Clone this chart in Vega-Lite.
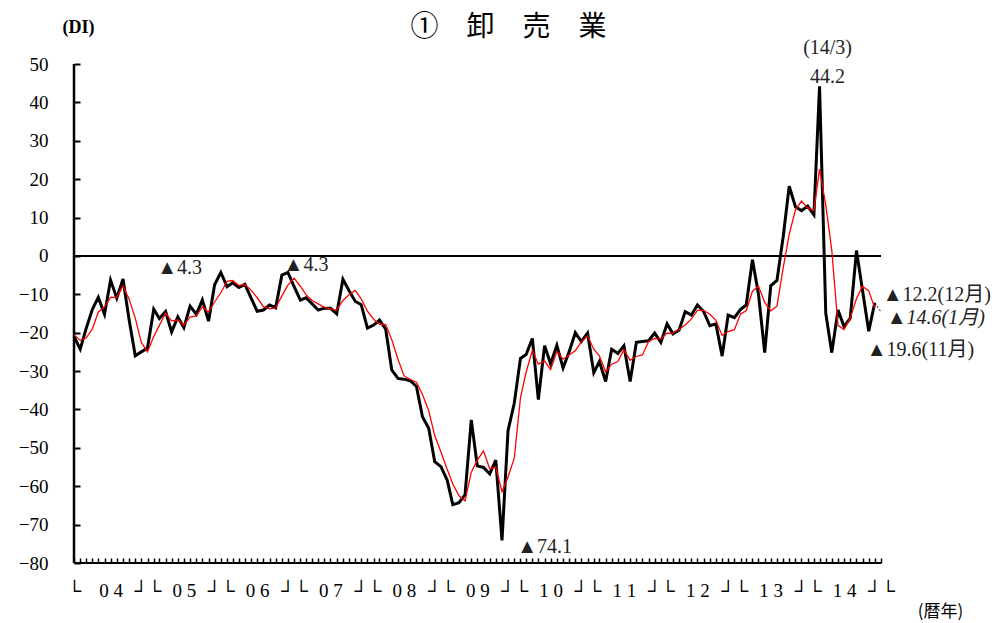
{
  "$schema": "https://vega.github.io/schema/vega-lite/v6.json",
  "width": 807,
  "height": 499,
  "autosize": {"type": "none"},
  "padding": {"left": 74, "top": 64, "right": 121, "bottom": 60},
  "background": "white",
  "config": {
    "view": {"stroke": null},
    "font": "Liberation Serif",
    "axisX": {"labelFont": "Liberation Serif, DejaVu Sans", "labelFontSize": 19, "labelColor": "black", "domain": false, "tickColor": "black", "tickWidth": 1.5, "grid": false, "labelOverlap": false},
    "axisY": {"labelFont": "Liberation Serif", "labelFontSize": 19, "labelColor": "black", "domain": false, "tickColor": "black", "tickWidth": 2, "grid": false, "labelOverlap": false, "tickCount": 14}
  },
  "title": {"text": "①　卸　売　業", "font": "Noto Sans CJK JP", "fontSize": 28, "fontWeight": "normal", "color": "black", "anchor": "middle", "dx": 31, "dy": 38, "offset": 14},
  "datasets": {
    "di": [
      {"date":"2004-01-01","v":-21.0,"ma":-20.5},{"date":"2004-02-01","v":-24.3,"ma":-22.0},{"date":"2004-03-01","v":-19.0,"ma":-21.4},{"date":"2004-04-01","v":-14.0,"ma":-19.1},{"date":"2004-05-01","v":-10.8,"ma":-14.6},{"date":"2004-06-01","v":-15.2,"ma":-13.3},{"date":"2004-07-01","v":-6.3,"ma":-10.8},{"date":"2004-08-01","v":-11.0,"ma":-10.8},{"date":"2004-09-01","v":-6.0,"ma":-7.8},{"date":"2004-10-01","v":-16.5,"ma":-11.2},{"date":"2004-11-01","v":-26.0,"ma":-16.2},{"date":"2004-12-01","v":-25.0,"ma":-22.5},
      {"date":"2005-01-01","v":-24.0,"ma":-25.0},{"date":"2005-02-01","v":-13.9,"ma":-21.0},{"date":"2005-03-01","v":-16.3,"ma":-18.1},{"date":"2005-04-01","v":-14.5,"ma":-14.9},{"date":"2005-05-01","v":-19.8,"ma":-16.9},{"date":"2005-06-01","v":-15.9,"ma":-16.7},{"date":"2005-07-01","v":-18.7,"ma":-18.1},{"date":"2005-08-01","v":-13.1,"ma":-15.9},{"date":"2005-09-01","v":-15.2,"ma":-15.7},{"date":"2005-10-01","v":-11.5,"ma":-13.3},{"date":"2005-11-01","v":-17.0,"ma":-14.6},{"date":"2005-12-01","v":-7.5,"ma":-12.0},
      {"date":"2006-01-01","v":-4.3,"ma":-9.6},{"date":"2006-02-01","v":-8.0,"ma":-6.6},{"date":"2006-03-01","v":-7.0,"ma":-6.4},{"date":"2006-04-01","v":-8.2,"ma":-7.7},{"date":"2006-05-01","v":-7.4,"ma":-7.5},{"date":"2006-06-01","v":-11.0,"ma":-8.9},{"date":"2006-07-01","v":-14.4,"ma":-10.9},{"date":"2006-08-01","v":-14.1,"ma":-13.2},{"date":"2006-09-01","v":-12.8,"ma":-13.8},{"date":"2006-10-01","v":-13.5,"ma":-13.5},{"date":"2006-11-01","v":-5.0,"ma":-10.4},{"date":"2006-12-01","v":-4.3,"ma":-7.6},
      {"date":"2007-01-01","v":-8.0,"ma":-5.8},{"date":"2007-02-01","v":-11.5,"ma":-7.9},{"date":"2007-03-01","v":-10.9,"ma":-10.1},{"date":"2007-04-01","v":-12.5,"ma":-11.6},{"date":"2007-05-01","v":-14.1,"ma":-12.5},{"date":"2007-06-01","v":-13.6,"ma":-13.4},{"date":"2007-07-01","v":-13.6,"ma":-13.8},{"date":"2007-08-01","v":-15.1,"ma":-14.1},{"date":"2007-09-01","v":-6.1,"ma":-11.6},{"date":"2007-10-01","v":-9.0,"ma":-10.1},{"date":"2007-11-01","v":-11.8,"ma":-9.0},{"date":"2007-12-01","v":-12.7,"ma":-11.2},
      {"date":"2008-01-01","v":-18.8,"ma":-14.4},{"date":"2008-02-01","v":-18.0,"ma":-16.5},{"date":"2008-03-01","v":-16.7,"ma":-17.8},{"date":"2008-04-01","v":-19.1,"ma":-17.9},{"date":"2008-05-01","v":-29.7,"ma":-21.8},{"date":"2008-06-01","v":-31.9,"ma":-26.9},{"date":"2008-07-01","v":-32.1,"ma":-31.2},{"date":"2008-08-01","v":-32.5,"ma":-32.2},{"date":"2008-09-01","v":-34.0,"ma":-32.9},{"date":"2008-10-01","v":-41.9,"ma":-36.1},{"date":"2008-11-01","v":-44.9,"ma":-40.3},{"date":"2008-12-01","v":-53.6,"ma":-46.8},
      {"date":"2009-01-01","v":-54.9,"ma":-51.1},{"date":"2009-02-01","v":-58.4,"ma":-55.6},{"date":"2009-03-01","v":-64.8,"ma":-59.4},{"date":"2009-04-01","v":-64.3,"ma":-62.5},{"date":"2009-05-01","v":-62.2,"ma":-63.8},{"date":"2009-06-01","v":-42.7,"ma":-56.4},{"date":"2009-07-01","v":-54.7,"ma":-53.2},{"date":"2009-08-01","v":-55.1,"ma":-50.8},{"date":"2009-09-01","v":-56.8,"ma":-55.5},{"date":"2009-10-01","v":-53.2,"ma":-55.0},{"date":"2009-11-01","v":-74.1,"ma":-61.4},{"date":"2009-12-01","v":-45.5,"ma":-57.6},
      {"date":"2010-01-01","v":-38.4,"ma":-52.7},{"date":"2010-02-01","v":-26.7,"ma":-36.9},{"date":"2010-03-01","v":-25.7,"ma":-30.3},{"date":"2010-04-01","v":-21.5,"ma":-24.6},{"date":"2010-05-01","v":-37.4,"ma":-28.2},{"date":"2010-06-01","v":-23.4,"ma":-27.4},{"date":"2010-07-01","v":-28.1,"ma":-29.6},{"date":"2010-08-01","v":-23.3,"ma":-24.9},{"date":"2010-09-01","v":-29.2,"ma":-26.9},{"date":"2010-10-01","v":-25.0,"ma":-25.8},{"date":"2010-11-01","v":-20.0,"ma":-24.7},{"date":"2010-12-01","v":-22.3,"ma":-22.4},
      {"date":"2011-01-01","v":-20.1,"ma":-20.8},{"date":"2011-02-01","v":-30.4,"ma":-24.3},{"date":"2011-03-01","v":-27.5,"ma":-26.0},{"date":"2011-04-01","v":-32.7,"ma":-30.2},{"date":"2011-05-01","v":-24.3,"ma":-28.2},{"date":"2011-06-01","v":-25.4,"ma":-27.5},{"date":"2011-07-01","v":-23.4,"ma":-24.4},{"date":"2011-08-01","v":-32.7,"ma":-27.2},{"date":"2011-09-01","v":-22.5,"ma":-26.2},{"date":"2011-10-01","v":-22.3,"ma":-25.8},{"date":"2011-11-01","v":-22.1,"ma":-22.3},{"date":"2011-12-01","v":-20.1,"ma":-21.5},
      {"date":"2012-01-01","v":-22.5,"ma":-21.6},{"date":"2012-02-01","v":-17.7,"ma":-20.1},{"date":"2012-03-01","v":-20.3,"ma":-20.2},{"date":"2012-04-01","v":-19.3,"ma":-19.1},{"date":"2012-05-01","v":-14.5,"ma":-18.0},{"date":"2012-06-01","v":-15.4,"ma":-16.4},{"date":"2012-07-01","v":-12.8,"ma":-14.2},{"date":"2012-08-01","v":-14.5,"ma":-14.2},{"date":"2012-09-01","v":-18.2,"ma":-15.2},{"date":"2012-10-01","v":-17.7,"ma":-16.8},{"date":"2012-11-01","v":-26.1,"ma":-20.7},{"date":"2012-12-01","v":-15.4,"ma":-19.7},
      {"date":"2013-01-01","v":-16.1,"ma":-19.2},{"date":"2013-02-01","v":-13.9,"ma":-15.1},{"date":"2013-03-01","v":-12.8,"ma":-14.3},{"date":"2013-04-01","v":-1.0,"ma":-9.2},{"date":"2013-05-01","v":-10.0,"ma":-7.9},{"date":"2013-06-01","v":-25.2,"ma":-12.1},{"date":"2013-07-01","v":-7.8,"ma":-14.3},{"date":"2013-08-01","v":-6.4,"ma":-13.1},{"date":"2013-09-01","v":5.0,"ma":-3.1},{"date":"2013-10-01","v":18.2,"ma":5.6},{"date":"2013-11-01","v":12.8,"ma":12.0},{"date":"2013-12-01","v":11.8,"ma":14.3},
      {"date":"2014-01-01","v":13.0,"ma":12.5},{"date":"2014-02-01","v":10.7,"ma":11.8},{"date":"2014-03-01","v":44.2,"ma":22.6},{"date":"2014-04-01","v":-14.9,"ma":13.3},{"date":"2014-05-01","v":-25.2,"ma":1.4},{"date":"2014-06-01","v":-14.1,"ma":-18.1},{"date":"2014-07-01","v":-18.4,"ma":-19.2},{"date":"2014-08-01","v":-16.2,"ma":-16.2},{"date":"2014-09-01","v":1.4,"ma":-11.1},{"date":"2014-10-01","v":-9.0,"ma":-7.9},{"date":"2014-11-01","v":-19.6,"ma":-9.1},{"date":"2014-12-01","v":-12.2,"ma":-13.6}
    ],
    "fc": [{"date":"2014-12-01","v":-12.2},{"date":"2015-01-01","v":-14.6}],
    "notesC": [
      {"date":"2005-06-10","v":-3.1,"t":"▲4.3"},
      {"date":"2007-03-01","v":-2.3,"t":"▲4.3"},
      {"date":"2010-06-01","v":-75.8,"t":"▲74.1"},
      {"date":"2014-04-10","v":54.2,"t":"(14/3)"},
      {"date":"2014-04-10","v":46.5,"t":"44.2"}
    ],
    "notesL": [
      {"date":"2015-01-10","v":-10.2,"t":"▲12.2(12月)"},
      {"date":"2014-10-22","v":-24.5,"t":"▲19.6(11月)"}
    ],
    "notesI": [
      {"date":"2015-01-30","v":-16.2,"t":"▲14.6(1月)"}
    ],
    "one": [{"k": 1}]
  },
  "layer": [
    {
      "data": {"name": "di"},
      "mark": {"type": "line", "color": "black", "strokeWidth": 3, "clip": false},
      "encoding": {
        "x": {
          "field": "date", "type": "temporal", "title": "(暦年)",
          "scale": {"type": "utc", "domain": [{"year": 2004, "month": 1, "date": 1, "utc": true}, {"year": 2015, "month": 1, "date": 1, "utc": true}]},
          "axis": {
            "tickCount": {"interval": "month", "step": 1},
            "labelExpr": "utcmonth(datum.value) == 6 ? (floor((utcyear(datum.value) % 100) / 10) + ' ' + (utcyear(datum.value) % 10)) : (utcmonth(datum.value) == 0 ? (utcyear(datum.value) == 2004 ? '└' : '┘└') : '')",
            "labelOverlap": false, "labelFlush": false, "labelAngle": 0,
            "offset": -5, "tickSize": 5, "labelPadding": 18,
            "titleX": 866, "titleY": 53, "titleAlign": "center", "titleBaseline": "middle",
            "titleFont": "Noto Sans CJK JP", "titleFontSize": 17, "titleFontWeight": "normal", "titleColor": "black"
          }
        },
        "y": {
          "field": "v", "type": "quantitative", "title": "(DI)",
          "scale": {"domain": [-80, 50], "nice": false, "zero": false},
          "axis": {
            "values": [-80, -70, -60, -50, -40, -30, -20, -10, 0, 10, 20, 30, 40, 50],
            "tickCount": 14,
            "labelOverlap": false, "labelFlush": false,
            "offset": -6, "tickSize": 6, "labelPadding": 26,
            "titleAngle": 0, "titleX": -2, "titleY": -37, "titleAlign": "center", "titleBaseline": "middle",
            "titleFont": "Liberation Serif", "titleFontSize": 18, "titleFontWeight": "bold", "titleColor": "black"
          }
        }
      }
    },
    {
      "data": {"name": "one"},
      "mark": {"type": "rule", "color": "black", "strokeWidth": 2},
      "encoding": {"y": {"datum": 0, "type": "quantitative", "title": "(DI)"}}
    },
    {
      "data": {"name": "one"},
      "mark": {"type": "rule", "color": "black", "strokeWidth": 2},
      "encoding": {"y": {"datum": -80, "type": "quantitative", "title": "(DI)"}}
    },
    {
      "data": {"name": "one"},
      "mark": {"type": "rule", "color": "black", "strokeWidth": 2.5},
      "encoding": {"x": {"datum": {"year": 2004, "month": 1, "date": 1, "utc": true}, "type": "temporal", "title": "(暦年)"}}
    },
    {
      "data": {"name": "di"},
      "mark": {"type": "line", "color": "#ff0000", "strokeWidth": 1.3},
      "encoding": {
        "x": {"field": "date", "type": "temporal", "title": "(暦年)"},
        "y": {"field": "ma", "type": "quantitative", "title": "(DI)"}
      }
    },
    {
      "data": {"name": "fc"},
      "mark": {"type": "line", "color": "black", "strokeWidth": 1, "strokeDash": [2, 2]},
      "encoding": {
        "x": {"field": "date", "type": "temporal", "title": "(暦年)"},
        "y": {"field": "v", "type": "quantitative", "title": "(DI)"}
      }
    },
    {
      "data": {"name": "notesC"},
      "mark": {"type": "text", "align": "center", "baseline": "middle", "font": "Liberation Serif, Noto Sans CJK JP", "fontSize": 20, "color": "#222222", "clip": false},
      "encoding": {
        "x": {"field": "date", "type": "temporal", "title": "(暦年)"},
        "y": {"field": "v", "type": "quantitative", "title": "(DI)"},
        "text": {"field": "t"}
      }
    },
    {
      "data": {"name": "notesL"},
      "mark": {"type": "text", "align": "left", "baseline": "middle", "font": "Liberation Serif, Noto Sans CJK JP", "fontSize": 20, "color": "#222222", "clip": false},
      "encoding": {
        "x": {"field": "date", "type": "temporal", "title": "(暦年)"},
        "y": {"field": "v", "type": "quantitative", "title": "(DI)"},
        "text": {"field": "t"}
      }
    },
    {
      "data": {"name": "notesI"},
      "mark": {"type": "text", "align": "left", "baseline": "middle", "font": "Liberation Serif, Noto Sans CJK JP", "fontSize": 20, "fontStyle": "italic", "color": "#222222", "clip": false},
      "encoding": {
        "x": {"field": "date", "type": "temporal", "title": "(暦年)"},
        "y": {"field": "v", "type": "quantitative", "title": "(DI)"},
        "text": {"field": "t"}
      }
    }
  ]
}
